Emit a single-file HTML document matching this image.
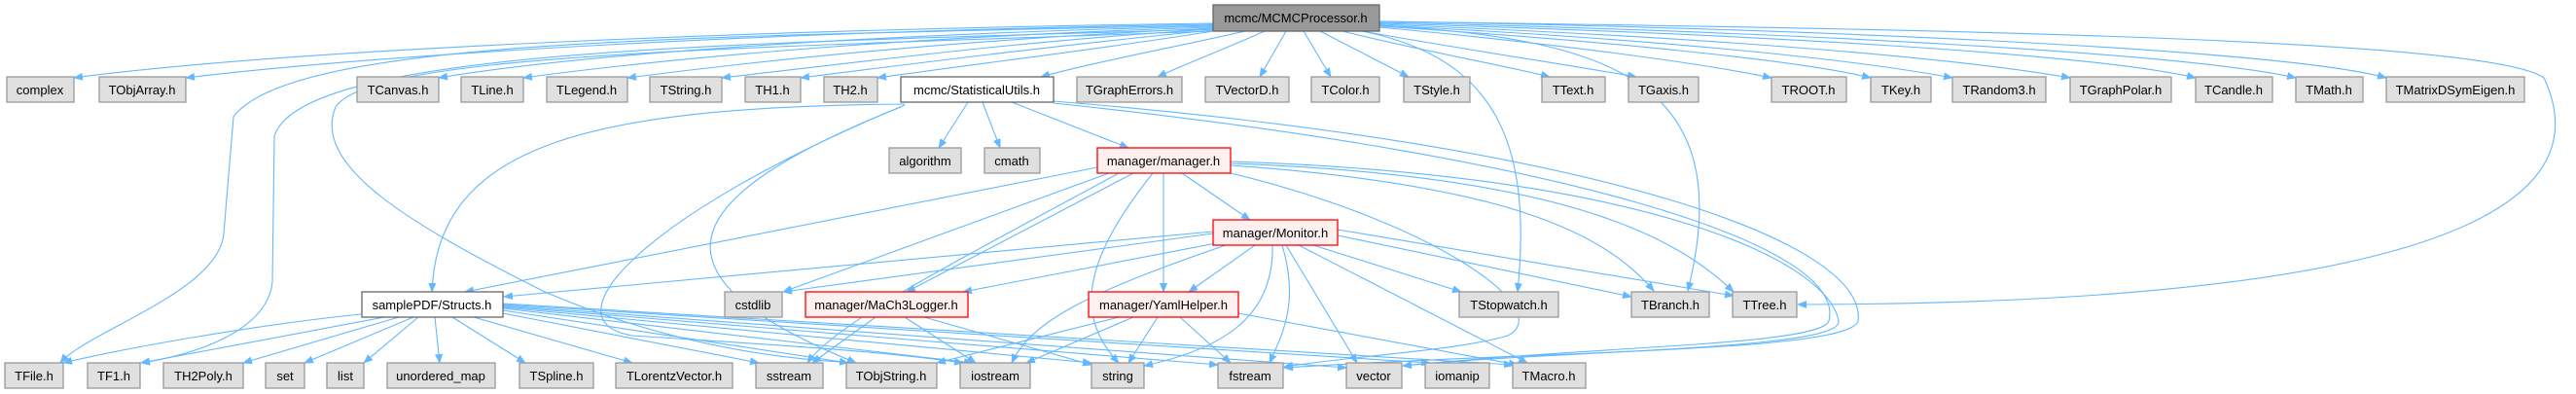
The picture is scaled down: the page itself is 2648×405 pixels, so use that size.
<!DOCTYPE html>
<html><head><meta charset="utf-8"><style>
html,body{margin:0;padding:0;background:#fff;}
svg{display:block;}
text{font-family:"Liberation Sans",Helvetica,sans-serif;font-size:13px;text-anchor:middle;fill:#000;}
.g{fill:#e0e0e0;stroke:#999;stroke-width:1.3;}
.r{fill:#fff0f0;stroke:#ff0000;stroke-width:1.3;}
.w{fill:#fff;stroke:#666;stroke-width:1.3;}
.m{fill:#999;stroke:#666;stroke-width:1.3;}
path.e{fill:none;stroke:#63b8ff;stroke-width:1.1;marker-end:url(#a);}
</style></head><body>
<svg width="2648" height="405" viewBox="0 0 2648 405" xmlns="http://www.w3.org/2000/svg">
<defs><marker id="a" markerWidth="10" markerHeight="8" refX="9" refY="4" orient="auto" markerUnits="userSpaceOnUse"><path d="M0,0 L10,4 L0,8 z" fill="#63b8ff"/></marker></defs>
<g>
<!-- MCMC edges to row 2 -->
<path class="e" d="M1247,24 C800,30 300,50 76,80"/>
<path class="e" d="M1247,25 C800,32 400,55 191,80"/>
<path class="e" d="M1247,27 C900,35 600,55 451,80"/>
<path class="e" d="M1247,28 C950,37 700,58 538,80"/>
<path class="e" d="M1247,29 C1000,40 800,60 645,80"/>
<path class="e" d="M1247,30 C1050,42 900,62 742,80"/>
<path class="e" d="M1247,31 C1100,45 950,64 823,80"/>
<path class="e" d="M1247,32 C1150,48 1000,66 902,80"/>
<path class="e" d="M1280,32 C1200,50 1120,65 1070,79"/>
<path class="e" d="M1300,32 C1260,50 1220,65 1190,79"/>
<path class="e" d="M1322,32 L1295,79"/>
<path class="e" d="M1340,32 L1368,79"/>
<path class="e" d="M1357,32 L1448,79"/>
<path class="e" d="M1380,32 C1450,50 1550,68 1593,79"/>
<path class="e" d="M1400,32 C1500,50 1620,68 1682,79"/>
<path class="e" d="M1418,28 C1600,45 1750,65 1821,80"/>
<path class="e" d="M1418,27 C1650,42 1850,62 1923,80"/>
<path class="e" d="M1418,26 C1700,40 1900,60 2007,80"/>
<path class="e" d="M1418,25 C1750,38 2000,58 2128,80"/>
<path class="e" d="M1418,24 C1800,35 2150,55 2257,80"/>
<path class="e" d="M1418,23 C1850,33 2250,55 2360,80"/>
<path class="e" d="M1418,22 C1900,30 2350,52 2453,80"/>
<path class="e" d="M1247,26 C700,38 300,40 240,120 L230,240 C225,300 90,340 62,373"/>
<path class="e" d="M1247,30 C750,45 310,50 282,140 L280,290 C275,340 200,365 145,373"/>
<path class="e" d="M1247,32 C750,50 380,55 345,110 C320,170 420,230 560,300 C700,360 820,370 880,373"/>
<path class="e" d="M1400,32 C1540,60 1575,150 1560,300"/>
<path class="e" d="M1418,26 C1650,40 1790,80 1735,299"/>
<path class="e" d="M1418,22 C2000,30 2560,40 2615,80 C2690,240 2400,312 1848,313"/>
<!-- StatisticalUtils -->
<path class="e" d="M995,105 L965,152"/>
<path class="e" d="M1010,105 L1028,152"/>
<path class="e" d="M1040,105 L1160,152"/>
<path class="e" d="M930,107 C600,110 450,150 444,300"/>
<path class="e" d="M926,110 C700,200 650,280 880,373"/>
<path class="e" d="M930,108 C660,220 560,330 650,345 C800,355 900,360 990,373"/>
<path class="e" d="M1083,106 C1600,160 1900,250 1880,330 C1870,355 1650,355 1442,376"/>
<path class="e" d="M1083,104 C1650,150 1920,250 1910,330 C1900,362 1600,360 1320,378"/>
<!-- manager.h -->
<path class="e" d="M1215,178 L1285,226"/>
<path class="e" d="M1196,178 L1196,300"/>
<path class="e" d="M1165,178 L932,300"/>
<path class="e" d="M1128,172 L478,300"/>
<path class="e" d="M1140,178 L805,300"/>
<path class="e" d="M1185,178 C1120,260 1100,320 1150,373"/>
<path class="e" d="M1265,170 C1550,190 1650,240 1700,299"/>
<path class="e" d="M1265,168 C1600,180 1720,240 1782,300"/>
<path class="e" d="M1265,166 C1700,180 1880,270 1890,330 C1895,360 1600,360 1442,376"/>
<path class="e" d="M1265,178 C1480,230 1600,320 1550,345 C1500,360 1400,365 1320,377"/>
<path class="e" d="M1150,178 C1000,260 860,330 830,373"/>
<!-- Monitor -->
<path class="e" d="M1247,240 L805,300"/>
<path class="e" d="M1250,250 L990,300"/>
<path class="e" d="M1290,252 L1222,300"/>
<path class="e" d="M1350,252 L1502,300"/>
<path class="e" d="M1375,242 L1677,305"/>
<path class="e" d="M1375,236 L1782,304"/>
<path class="e" d="M1247,238 L518,305"/>
<path class="e" d="M1260,252 C1120,300 1060,330 1040,373"/>
<path class="e" d="M1308,252 C1310,330 1250,360 1176,376"/>
<path class="e" d="M1318,252 C1335,310 1320,340 1305,373"/>
<path class="e" d="M1322,252 L1395,373"/>
<path class="e" d="M1335,252 L1570,373"/>
<!-- MaCh3Logger -->
<path class="e" d="M930,326 L1003,373"/>
<path class="e" d="M900,326 L835,373"/>
<path class="e" d="M950,326 L1122,375"/>
<!-- YamlHelper -->
<path class="e" d="M1165,326 L1055,373"/>
<path class="e" d="M1190,326 L1160,373"/>
<path class="e" d="M1213,326 L1265,373"/>
<path class="e" d="M1273,322 L1560,375"/>
<path class="e" d="M1150,326 L963,373"/>
<!-- Structs -->
<path class="e" d="M380,322 C250,335 120,360 65,373"/>
<path class="e" d="M395,326 L145,373"/>
<path class="e" d="M410,326 L250,373"/>
<path class="e" d="M425,326 L313,373"/>
<path class="e" d="M430,326 L374,373"/>
<path class="e" d="M447,326 L452,373"/>
<path class="e" d="M465,326 L540,373"/>
<path class="e" d="M487,326 L650,373"/>
<path class="e" d="M517,322 L780,373"/>
<path class="e" d="M517,319 L872,373"/>
<path class="e" d="M517,317 L1000,373"/>
<path class="e" d="M517,316 L1122,373"/>
<path class="e" d="M517,315 L1252,375"/>
<path class="e" d="M517,314 L1384,378"/>
<path class="e" d="M517,313 L1470,373"/>
<path class="e" d="M517,312 L1555,375"/>
</g>
<!-- nodes -->
<rect class="m" x="1247" y="5" width="171" height="27"/><text x="1332" y="23">mcmc/MCMCProcessor.h</text>

<rect class="g" x="7" y="79" width="69" height="26"/><text x="41" y="97">complex</text>
<rect class="g" x="102" y="79" width="89" height="26"/><text x="146" y="97">TObjArray.h</text>
<rect class="g" x="367" y="79" width="84" height="26"/><text x="409" y="97">TCanvas.h</text>
<rect class="g" x="474" y="79" width="64" height="26"/><text x="506" y="97">TLine.h</text>
<rect class="g" x="562" y="79" width="83" height="26"/><text x="603" y="97">TLegend.h</text>
<rect class="g" x="668" y="79" width="74" height="26"/><text x="705" y="97">TString.h</text>
<rect class="g" x="766" y="79" width="57" height="26"/><text x="794" y="97">TH1.h</text>
<rect class="g" x="847" y="79" width="55" height="26"/><text x="874" y="97">TH2.h</text>
<rect class="w" x="926" y="79" width="157" height="26"/><text x="1004" y="97">mcmc/StatisticalUtils.h</text>
<rect class="g" x="1107" y="79" width="108" height="26"/><text x="1161" y="97">TGraphErrors.h</text>
<rect class="g" x="1239" y="79" width="86" height="26"/><text x="1282" y="97">TVectorD.h</text>
<rect class="g" x="1348" y="79" width="70" height="26"/><text x="1383" y="97">TColor.h</text>
<rect class="g" x="1443" y="79" width="68" height="26"/><text x="1477" y="97">TStyle.h</text>
<rect class="g" x="1585" y="79" width="65" height="26"/><text x="1617" y="97">TText.h</text>
<rect class="g" x="1674" y="79" width="72" height="26"/><text x="1710" y="97">TGaxis.h</text>
<rect class="g" x="1821" y="79" width="77" height="26"/><text x="1859" y="97">TROOT.h</text>
<rect class="g" x="1923" y="79" width="62" height="26"/><text x="1954" y="97">TKey.h</text>
<rect class="g" x="2007" y="79" width="96" height="26"/><text x="2055" y="97">TRandom3.h</text>
<rect class="g" x="2128" y="79" width="104" height="26"/><text x="2180" y="97">TGraphPolar.h</text>
<rect class="g" x="2257" y="79" width="79" height="26"/><text x="2296" y="97">TCandle.h</text>
<rect class="g" x="2360" y="79" width="69" height="26"/><text x="2394" y="97">TMath.h</text>
<rect class="g" x="2453" y="79" width="142" height="26"/><text x="2524" y="97">TMatrixDSymEigen.h</text>

<rect class="g" x="914" y="152" width="74" height="26"/><text x="951" y="170">algorithm</text>
<rect class="g" x="1012" y="152" width="57" height="26"/><text x="1040" y="170">cmath</text>
<rect class="r" x="1128" y="152" width="137" height="26"/><text x="1196" y="170">manager/manager.h</text>

<rect class="r" x="1247" y="226" width="128" height="26"/><text x="1311" y="244">manager/Monitor.h</text>

<rect class="w" x="372" y="300" width="145" height="26"/><text x="444" y="318">samplePDF/Structs.h</text>
<rect class="g" x="745" y="300" width="59" height="26"/><text x="774" y="318">cstdlib</text>
<rect class="r" x="828" y="300" width="167" height="26"/><text x="911" y="318">manager/MaCh3Logger.h</text>
<rect class="r" x="1119" y="300" width="154" height="26"/><text x="1196" y="318">manager/YamlHelper.h</text>
<rect class="g" x="1500" y="300" width="102" height="26"/><text x="1551" y="318">TStopwatch.h</text>
<rect class="g" x="1677" y="300" width="80" height="26"/><text x="1717" y="318">TBranch.h</text>
<rect class="g" x="1781" y="300" width="66" height="26"/><text x="1814" y="318">TTree.h</text>

<rect class="g" x="5" y="373" width="60" height="26"/><text x="35" y="391">TFile.h</text>
<rect class="g" x="90" y="373" width="54" height="26"/><text x="117" y="391">TF1.h</text>
<rect class="g" x="168" y="373" width="82" height="26"/><text x="209" y="391">TH2Poly.h</text>
<rect class="g" x="273" y="373" width="40" height="26"/><text x="293" y="391">set</text>
<rect class="g" x="336" y="373" width="38" height="26"/><text x="355" y="391">list</text>
<rect class="g" x="398" y="373" width="111" height="26"/><text x="453" y="391">unordered_map</text>
<rect class="g" x="534" y="373" width="76" height="26"/><text x="572" y="391">TSpline.h</text>
<rect class="g" x="633" y="373" width="120" height="26"/><text x="693" y="391">TLorentzVector.h</text>
<rect class="g" x="777" y="373" width="69" height="26"/><text x="811" y="391">sstream</text>
<rect class="g" x="870" y="373" width="93" height="26"/><text x="916" y="391">TObjString.h</text>
<rect class="g" x="987" y="373" width="72" height="26"/><text x="1023" y="391">iostream</text>
<rect class="g" x="1122" y="373" width="54" height="26"/><text x="1149" y="391">string</text>
<rect class="g" x="1252" y="373" width="67" height="26"/><text x="1285" y="391">fstream</text>
<rect class="g" x="1384" y="373" width="57" height="26"/><text x="1412" y="391">vector</text>
<rect class="g" x="1465" y="373" width="66" height="26"/><text x="1498" y="391">iomanip</text>
<rect class="g" x="1555" y="373" width="75" height="26"/><text x="1592" y="391">TMacro.h</text>
</svg>
</body></html>
